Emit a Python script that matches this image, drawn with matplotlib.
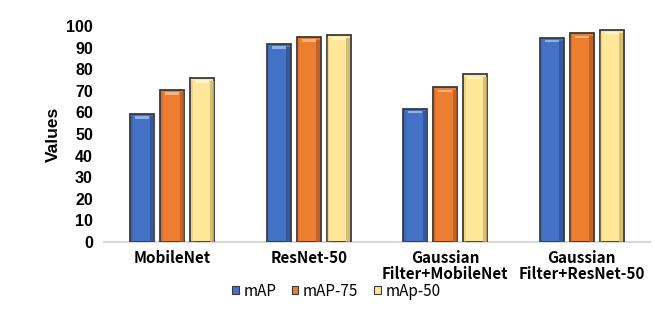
import matplotlib
matplotlib.use("Agg")
import matplotlib.pyplot as plt
from matplotlib.patches import Rectangle
import numpy as np

categories = ["MobileNet", "ResNet-50", "Gaussian\nFilter+MobileNet", "Gaussian\nFilter+ResNet-50"]
series_names = ["mAP", "mAP-75", "mAp-50"]
map_all = [59.3, 91.7, 61.7, 94.6]
map75 = [70.3, 95.0, 71.6, 96.6]
map50 = [75.8, 95.8, 77.6, 98.3]
yticks = list(range(0, 101, 10))

colors = ["#4472C4", "#ED7D31", "#FFE699"]
dark = ["#2F5597", "#B85A1E", "#C9B46A"]
light = ["#8FB0EA", "#F8B383", "#FFF5CC"]

fig = plt.figure(figsize=(6.55, 3.18), dpi=100)
ax = fig.add_axes([104/655, 1-242/318, 546/655, 216/318])

x = np.arange(len(categories))
w = 0.176
step = 0.22
data = [map_all, map75, map50]
for i, vals in enumerate(data):
    bars = ax.bar(x + (i-1)*step, vals, width=w, color=colors[i], edgecolor="#3a3a3a",
                  linewidth=1.3, label=series_names[i], zorder=3)
    for b in bars:
        bx, bw, bh = b.get_x(), b.get_width(), b.get_height()
        # right shading
        ax.add_patch(Rectangle((bx + bw*0.82, 0), bw*0.16, bh*0.985, color=dark[i],
                               lw=0, zorder=4, alpha=0.8))
        # left shading
        ax.add_patch(Rectangle((bx + bw*0.03, 0), bw*0.08, bh*0.985, color=dark[i],
                               lw=0, zorder=4, alpha=0.35))
        # top highlight cap
        ax.add_patch(Rectangle((bx + bw*0.2, bh - 2.2), bw*0.6, 1.2, color=light[i],
                               lw=0, zorder=4))

ax.set_xlim(-0.5, len(categories)-0.5)
ax.set_ylim(0, 100)
ax.set_yticks(yticks)
ax.set_yticklabels([str(t) for t in yticks], fontsize=11.5, fontweight="bold",
                   family="Liberation Sans")
ax.set_xticks(x)
ax.set_xticklabels(categories, fontsize=11, fontweight="bold",
                   family=["Noto Sans CJK SC", "DejaVu Sans"], linespacing=1.0)
ax.tick_params(axis="both", length=0)
ax.tick_params(axis="y", pad=8)
ax.tick_params(axis="x", pad=6)
for s in ["top", "right", "left"]:
    ax.spines[s].set_visible(False)
ax.spines["bottom"].set_color("#d9d9d9")
ax.spines["bottom"].set_linewidth(1.5)
ax.set_ylabel("Values", fontsize=12.5, fontweight="bold", family="Liberation Sans", labelpad=4)

leg = ax.legend(loc="center", bbox_to_anchor=(0.425, -0.227), ncol=3, frameon=False,
                prop={"family": ["Noto Sans CJK SC", "DejaVu Sans"], "size": 11, "weight": "medium"},
                handlelength=0.45, handleheight=0.45, handletextpad=0.3, columnspacing=1.0)
for h in leg.legend_handles:
    h.set_linewidth(0.8)

fig.savefig("out.png", dpi=100)
